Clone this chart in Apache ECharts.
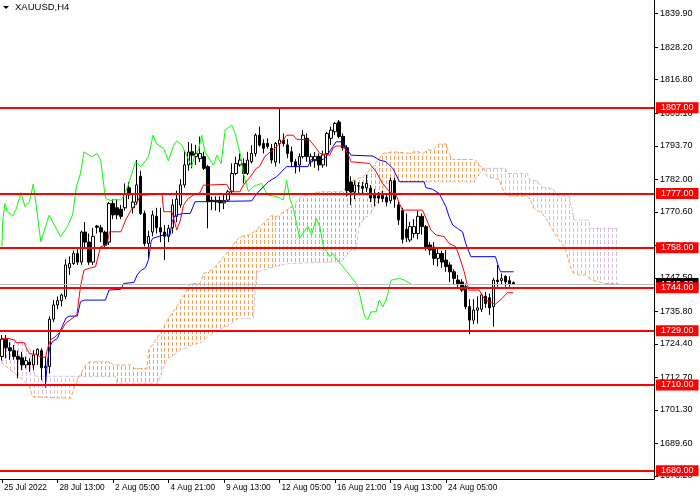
<!DOCTYPE html>
<html>
<head>
<meta charset="utf-8">
<style>
  html, body { margin: 0; padding: 0; background: #ffffff; }
  #grafico { width: 700px; height: 500px; }
</style>
<script src="https://cdn.jsdelivr.net/npm/echarts@6/dist/echarts.min.js"></script>
</head>
<body>
<div id="grafico"></div>
<script>
const symbolName = 'XAUUSD,H4'

// time axis: one label every 14 bars
const tickLabels = ['25 Jul 2022', '28 Jul 13:00', '2 Aug 05:00', '4 Aug 21:00', '9 Aug 13:00',
	'12 Aug 05:00', '16 Aug 21:00', '19 Aug 13:00', '24 Aug 05:00']
const labelEvery = 14
const barCount = 165

// price axis
const priceTicks = [1678.2, 1689.6, 1701.3, 1712.7, 1724.4, 1735.8, 1747.5, 1758.9,
	1770.6, 1782.0, 1793.7, 1805.1, 1816.8, 1828.2, 1839.9]
const priceMin = 1677.1
const priceMax = 1844.7

// H4 candles: [open, close, low, high]
const candles = [
	[1720, 1726, 1718.5, 1727.5], [1726, 1723, 1719.3, 1727.5], [1723, 1722, 1718.8, 1725], [1722, 1720, 1718.8, 1724],
	[1720, 1719, 1712.3, 1722], [1719.5, 1717, 1715.2, 1721.6], [1717, 1718.5, 1715.8, 1719.9], [1718, 1717, 1714.6, 1719.3],
	[1717, 1720.5, 1715.2, 1722.2], [1720.5, 1722.5, 1717, 1722.8], [1722, 1716, 1711.7, 1722.8], [1716, 1716.5, 1710, 1720],
	[1716.5, 1733, 1714, 1734], [1733, 1738, 1732, 1739.7], [1738, 1739.5, 1736.5, 1741], [1739.5, 1741.5, 1737.5, 1742],
	[1741, 1752, 1740, 1754], [1751, 1752.5, 1748.5, 1755], [1752.5, 1756, 1752, 1757], [1756, 1753, 1752, 1757.5],
	[1753, 1763.5, 1752, 1764], [1763.5, 1760, 1758, 1767], [1760, 1753, 1752, 1763], [1753, 1762, 1752, 1765],
	[1765.6, 1765.2, 1763, 1766], [1765, 1763.5, 1760, 1766], [1763.5, 1759, 1758, 1764], [1760, 1773.5, 1759, 1774],
	[1773.5, 1769.5, 1768, 1775], [1772, 1769.5, 1768, 1775], [1771.5, 1769, 1768, 1773], [1772, 1777, 1771, 1780.5],
	[1779, 1776.5, 1775, 1781], [1772, 1774, 1770, 1777], [1774, 1780, 1773, 1788.7], [1783, 1770, 1769.5, 1785],
	[1770, 1759.5, 1758.5, 1771], [1759.5, 1762, 1754.3, 1764], [1763.5, 1769.5, 1762, 1771], [1769, 1765, 1763, 1772],
	[1765, 1763.5, 1760, 1772], [1763.5, 1762, 1753.7, 1766], [1762, 1764.8, 1760, 1766], [1765, 1773, 1763, 1775],
	[1769, 1775, 1767, 1778], [1773, 1780, 1772, 1782], [1780, 1787, 1779, 1792], [1787, 1791.5, 1785, 1795],
	[1791.6, 1790.4, 1785.8, 1794.5], [1789.9, 1791, 1787, 1794], [1789.2, 1791, 1788, 1796.9], [1789.9, 1785.8, 1785.2, 1791.6],
	[1786.4, 1774.1, 1764.8, 1787], [1774.6, 1774.2, 1771.2, 1775.9], [1774, 1774.6, 1771, 1776], [1774.6, 1773.7, 1770.5, 1776],
	[1773.7, 1774.5, 1771.5, 1776.5], [1774.7, 1777.6, 1774.1, 1778.2], [1777.6, 1784, 1777, 1787.5], [1784, 1787.5, 1783.4, 1789.9],
	[1787, 1788.7, 1786.4, 1791], [1787.5, 1784, 1780.5, 1789.3], [1784, 1788.7, 1783.4, 1791.6], [1788.1, 1791, 1787.5, 1793.9],
	[1791, 1797.4, 1789.9, 1798], [1797.4, 1793.9, 1793.4, 1800.4], [1794.5, 1792.8, 1791, 1796], [1794.5, 1793.4, 1792.7, 1796.3],
	[1792.8, 1788.7, 1787.5, 1794.3], [1788, 1794.5, 1786.4, 1795], [1794.5, 1795.7, 1787.5, 1807.2], [1795.7, 1794.5, 1793.4, 1798],
	[1794, 1791, 1789.3, 1796], [1791.6, 1788.1, 1786.4, 1793.4], [1788.1, 1786.4, 1784, 1789], [1787, 1789.9, 1784.6, 1791],
	[1789.9, 1797.4, 1789.3, 1799.2], [1796.3, 1789.9, 1788.1, 1798], [1788.1, 1789.9, 1786.4, 1791], [1788.5, 1790, 1786, 1791.5],
	[1790, 1787, 1785, 1791], [1787, 1790.5, 1786, 1792], [1791, 1798, 1786.4, 1798.6], [1796.3, 1799.2, 1794, 1800.4],
	[1798.6, 1801.5, 1797.4, 1802], [1802, 1796.9, 1796.3, 1802.7], [1797, 1793, 1792, 1798], [1793, 1778, 1776, 1794],
	[1781, 1777.5, 1773, 1783], [1777.5, 1780, 1775, 1781.5], [1779.6, 1779.8, 1777, 1781], [1779.5, 1778.8, 1777, 1781],
	[1779, 1780.5, 1777.5, 1783.5], [1778.8, 1775.4, 1774, 1780], [1776.5, 1775.4, 1772.5, 1778.5], [1776.2, 1775.4, 1773.5, 1777.5],
	[1776.4, 1775.2, 1774, 1778], [1775.7, 1774, 1772.5, 1777], [1774.5, 1781.5, 1773.5, 1782.5], [1781.5, 1775, 1772, 1782.5],
	[1773, 1767.7, 1766, 1774], [1771, 1761, 1759.5, 1772], [1764.5, 1761.5, 1760, 1770], [1760.7, 1765.4, 1760, 1767],
	[1763, 1765.4, 1761.5, 1768], [1763, 1769, 1761, 1771], [1769, 1765.4, 1762.6, 1770], [1765.4, 1758.4, 1757, 1766],
	[1759, 1757.2, 1755.5, 1760], [1758.2, 1754.3, 1752, 1760], [1754.3, 1756, 1751.5, 1757.5], [1756, 1753, 1751, 1757],
	[1753.7, 1751.4, 1749.6, 1757.2], [1752, 1749.6, 1746, 1753], [1749.6, 1747.3, 1745, 1750.5], [1746.7, 1745.5, 1744, 1748.5],
	[1746, 1743.2, 1742.5, 1747], [1744.4, 1737.4, 1736.5, 1745.5], [1737.4, 1732.7, 1727.7, 1740], [1732.7, 1736.2, 1731.3, 1740],
	[1736.2, 1737, 1731.5, 1741], [1736.5, 1741.5, 1735.5, 1742], [1741, 1738.5, 1737, 1742.5], [1740.5, 1737, 1734.5, 1742],
	[1737.4, 1746.7, 1730.4, 1747.5], [1746.7, 1746.2, 1744.4, 1752], [1746.5, 1747.2, 1745, 1749], [1748, 1746.1, 1744.4, 1748.4],
	[1746.5, 1745.5, 1744.4, 1748], [1745.8, 1745.3, 1745, 1746.2]
]

// ichimoku lines: [bar, price]
const tenkan = [
	[0, 1726.3], [1.5, 1726.3], [2, 1725.7], [3.2, 1725.7], [3.5, 1724.8], [5.6, 1724.8], [6, 1723.4], [6.9, 1721],
	[9, 1720.7], [9.4, 1719.9], [11, 1719.6], [11.5, 1722.8], [12.3, 1725.9], [13.2, 1726.6], [15, 1729], [16, 1731.5],
	[18.9, 1734.5], [19.8, 1744.4], [20.7, 1750.2], [22, 1750.8], [23.6, 1751.4], [24.1, 1752], [24.9, 1758.4], [26.5, 1759],
	[27.1, 1763.6], [30, 1763.6], [30.4, 1764.8], [31.2, 1767.7], [32.8, 1771.8], [34, 1773.5], [34.9, 1776.4], [40.4, 1776.7],
	[40.8, 1770.6], [42.9, 1770.6], [43.3, 1768.3], [44.1, 1764.2], [45, 1767.7], [45.8, 1772.9], [47, 1775.3], [48.3, 1776.4],
	[50, 1777.3], [50.8, 1779.9], [56.7, 1780.2], [57.5, 1778.2], [58.5, 1777.6], [60, 1777.6], [60.9, 1779.9], [62.5, 1782.6],
	[64.2, 1785.8], [65, 1786.4], [66.3, 1789.9], [69.3, 1793.4], [71, 1795.7], [71.8, 1797.4], [73.5, 1797.4], [74.3, 1796],
	[77.6, 1795.7], [79.3, 1792.8], [80.2, 1791], [82.7, 1790.4], [83.5, 1792.8], [84.3, 1793.6], [86, 1793.6], [86.8, 1792.2],
	[88.1, 1788.1], [92.7, 1787.5], [94.4, 1784.6], [96, 1780.5], [97.8, 1777.6], [99.4, 1776.5], [100.3, 1773.5], [101, 1771.2],
	[106.1, 1771.2], [107, 1768.3], [108.2, 1764.2], [109.5, 1762.5], [111.6, 1761.9], [112.8, 1759.5], [114.5, 1758.4], [115.7, 1753.7],
	[116.6, 1749.6], [117.4, 1745], [117.8, 1743.2], [120.4, 1743.2], [121.6, 1740.3], [122.9, 1739.1], [124.5, 1738.3], [126.2, 1740.3],
	[127.5, 1742.3], [129, 1742.3]
]

const kijun = [
	[10.9, 1709], [11.5, 1718.7], [12.1, 1723.4], [12.7, 1725.1], [14, 1726.3], [14.8, 1729.2], [16.1, 1733.3], [16.9, 1734.1],
	[19, 1734.1], [19.8, 1739.1], [20.7, 1739.7], [26.1, 1739.7], [27, 1743.2], [30, 1743.5], [30.7, 1745.5], [33.3, 1745.9],
	[34.1, 1748.5], [35, 1750], [36.2, 1751], [37, 1754], [37.6, 1760], [38, 1761.3], [40.8, 1762.5], [42.4, 1762.5],
	[42.9, 1767.1], [43.7, 1769.4], [45.8, 1770], [47.5, 1770], [48.7, 1774.1], [49.1, 1774.4], [63, 1774.4], [64.3, 1777],
	[67.2, 1781.1], [69.3, 1782.9], [71.8, 1786.4], [77.2, 1786.4], [78, 1788.9], [81, 1788.9], [81.8, 1789.9], [83.5, 1793.4],
	[84.3, 1795.1], [86, 1795.1], [86.9, 1792.8], [88.1, 1790.4], [93.6, 1790.1], [95.2, 1788.7], [96.9, 1788.1], [98.6, 1785.8],
	[100.3, 1781.1], [106.5, 1781.1], [107, 1779], [108.6, 1778.5], [110.3, 1777], [112, 1772.4], [112.8, 1768.9], [113.7, 1766],
	[114.9, 1764.8], [116.2, 1763.6], [117, 1759.5], [117.8, 1756.6], [118.3, 1754.9], [124.5, 1754.9], [125.4, 1750.8], [125.8, 1749.6],
	[129.1, 1749.6]
]

const chikou = [
	[0, 1758.4], [0.2, 1767.7], [0.75, 1773.5], [1.4, 1770.6], [2.7, 1769.1], [3.5, 1771.2], [4.8, 1777.3], [5.8, 1772.4],
	[6.9, 1774.1], [7.9, 1780.3], [8.5, 1774.1], [9.8, 1760.1], [11.9, 1769.4], [14.8, 1761.9], [16.5, 1765.4], [17.8, 1769.4],
	[18.8, 1779.4], [19.8, 1784], [20.7, 1791.6], [21.9, 1790.4], [22.8, 1789.9], [24, 1791], [24.9, 1788.7], [26.1, 1775.3],
	[27.4, 1774.5], [28.6, 1774.9], [29.9, 1774.7], [30.7, 1775.9], [32, 1780.5], [33.7, 1788.1], [34.9, 1786.4], [35.7, 1787.5],
	[37, 1789.9], [38.1, 1797.4], [39.1, 1794.3], [40.8, 1792.8], [42, 1788.5], [43.3, 1793.9], [44.1, 1795.4], [45.4, 1793.9],
	[46.7, 1789.9], [47.9, 1786.4], [48.5, 1789.9], [49.6, 1792.2], [50.4, 1797.4], [51.2, 1791.5], [52.5, 1788.7], [53.4, 1786.9],
	[54.2, 1790.4], [55.3, 1787.5], [56.3, 1799.2], [58, 1800.9], [58.8, 1798], [60.1, 1791], [60.9, 1784], [62.2, 1777.6],
	[63.4, 1779.4], [64.3, 1779.9], [65.5, 1780.5], [66.3, 1778.2], [67.2, 1776.4], [69.3, 1775.9], [71, 1774.7], [71.8, 1781.7],
	[72.6, 1775.3], [73.5, 1771.8], [75.1, 1761.3], [76.4, 1764], [77.2, 1765.4], [78.1, 1762.5], [79.3, 1768.3], [80.2, 1765.4],
	[81, 1758.9], [82.7, 1754.9], [83.5, 1756], [84.3, 1754.3], [86, 1751.4], [87.7, 1748.5], [89.4, 1745.5], [90.2, 1742],
	[91.5, 1733.9], [92.3, 1732.9], [93.1, 1735.6], [94.4, 1735.6], [95.2, 1739.7], [96.1, 1737.4], [96.9, 1739.7], [98.2, 1746.7],
	[99, 1746.9], [100.3, 1747.3], [101.5, 1746.7], [103.2, 1745.3]
]

const senkouA = [
	[-0.25, 1718.1], [3.1, 1714.1], [4.8, 1712.3], [6.9, 1709.4], [7.7, 1705.9], [8.1, 1705.3], [17.3, 1705.3], [18.3, 1709.4],
	[19.5, 1713], [21.1, 1717], [22, 1718.1], [27.4, 1718.1], [28, 1717], [32.4, 1717], [33.3, 1715.8], [36.6, 1715.8],
	[37, 1722.2], [39.1, 1726.3], [42, 1733.3], [44.1, 1737.4], [46.2, 1742], [47.5, 1745.5], [50, 1745.5], [50.8, 1749],
	[53, 1750.2], [54.5, 1752.5], [57, 1756.6], [59.2, 1760.7], [60.1, 1761.9], [62.2, 1762.5], [63.5, 1763.6], [65.1, 1765.4],
	[67.6, 1768.9], [68.4, 1769.5], [69.5, 1768.9], [71, 1770.6], [72.6, 1771.8], [75.6, 1775.9], [77, 1776.5], [80, 1777.6],
	[86, 1777.6], [87.7, 1781.1], [91.1, 1782.9], [93.6, 1786.4], [96.1, 1791], [98.6, 1791.6], [103.2, 1791], [104.4, 1792],
	[106.1, 1791], [107.5, 1792.2], [108.6, 1792.2], [110.3, 1794.3], [112, 1794.3], [112.8, 1791], [113.7, 1788.9], [118.7, 1788.9],
	[119.5, 1788.7], [120.3, 1786.9], [121.6, 1785.8], [122.4, 1782.9], [125.4, 1781.9], [126.6, 1777.6], [127.5, 1776.1], [132.5, 1776.1],
	[133.3, 1774.7], [134.2, 1771.8], [136.3, 1770], [137.5, 1767.7], [139.6, 1762.5], [142.1, 1757.8], [143.8, 1749.6], [145.5, 1748.5],
	[147.2, 1748.5], [148.8, 1746.7], [152.2, 1745.5], [155.5, 1745.5]
]

const senkouB = [
	[-0.25, 1725.5], [5, 1725.5], [6, 1724.5], [7, 1722.5], [7.8, 1716], [8.3, 1713.1], [19.5, 1713], [28.6, 1713],
	[29, 1710.6], [39.5, 1710.6], [40, 1713.5], [41.6, 1718.7], [45, 1722.2], [48.3, 1724.2], [50, 1724.6], [52, 1727],
	[55, 1729.5], [58, 1731.5], [59.6, 1733.3], [63.4, 1733.3], [64, 1745.5], [64.3, 1749.6], [69, 1751.5], [72.6, 1752.5],
	[84.8, 1753.1], [86, 1753.7], [88, 1757.2], [89.4, 1757.5], [90, 1765], [91.1, 1768], [93, 1770], [95, 1775],
	[96.6, 1780.5], [100.3, 1781.1], [119, 1781.1], [120.3, 1783.5], [121.6, 1785.8], [127, 1785.8], [127.5, 1784], [132.5, 1784],
	[133.3, 1781.5], [135, 1781.5], [136.3, 1779.2], [138.8, 1778.8], [140.4, 1776.1], [143, 1776.1], [143.8, 1771.8], [144.3, 1767.7],
	[148, 1767.7], [148.4, 1764.8], [155.5, 1764.8]
]

// where span A and span B cross, and which side is on top between them
const cloudSwitches = [-0.25, 19.5, 121.6, 155.5]
const cloudBullish = [false, true, false]

const levels = [1807, 1777, 1758, 1744, 1729, 1710, 1680]
const bidPrice = 1745.3

const fonte = '"Liberation Sans", Arial, sans-serif'
const corLaranja = '#f4a460'
const corLilas = '#d8bfd8'

// pixel y of a polyline at pixel x (screen geometry for the hatching)
function yNaTela(pontos, x) {
	for (let i = 1; i < pontos.length; i++) {
		const p = pontos[i - 1]
		const q = pontos[i]
		if (x >= p[0] && x <= q[0]) {
			const t = q[0] === p[0] ? 0 : (x - p[0]) / (q[0] - p[0])
			return p[1] + t * (q[1] - p[1])
		}
	}
	return null
}

// dotted vertical hatching between span A and span B, one column per bar,
// each dash a filled 1px rectangle, all dashes of a region in one path
function desenhaNuvem(params, api) {
	const k = params.dataIndex
	const x0 = cloudSwitches[k]
	const x1 = cloudSwitches[k + 1]
	const dentro = p => p[0] >= x0 && p[0] <= x1
	const linhaA = senkouA.filter(dentro).map(p => api.coord(p))
	const linhaB = senkouB.filter(dentro).map(p => api.coord(p))
	let caminho = ''
	for (let b = Math.ceil(x0); b <= Math.floor(x1); b++) {
		const xc = api.coord([b, priceMin])[0]
		const ya = yNaTela(linhaA, xc)
		const yb = yNaTela(linhaB, xc)
		if (ya === null || yb === null) continue
		const y1 = Math.round(Math.min(ya, yb))
		const y2 = Math.round(Math.max(ya, yb))
		const x = Math.round(xc)
		for (let y = Math.floor(y1 / 6) * 6; y < y2; y += 6) {
			const a = Math.max(y, y1)
			const c = Math.min(y + 4, y2)
			if (c > a) caminho += 'M' + x + ' ' + a + 'H' + (x + 1) + 'V' + c + 'H' + x + 'Z'
		}
	}
	return {
		type: 'path',
		shape: { pathData: caminho || 'M0 0' },
		style: { fill: cloudBullish[k] ? corLaranja : corLilas, stroke: null, lineWidth: 0 }
	}
}

function mostraRotulo(index) {
	return index % labelEvery === 0 && index / labelEvery < tickLabels.length
}

function linha(nome, dados, cor, tipo, z) {
	return {
		name: nome,
		type: 'line',
		xAxisIndex: 1,
		yAxisIndex: 0,
		data: dados,
		showSymbol: false,
		symbol: 'none',
		silent: true,
		z: z,
		lineStyle: { color: cor, width: 1, type: tipo }
	}
}

const myChart = echarts.init(document.getElementById('grafico'))

const marcasNivel = [{
	yAxis: bidPrice,
	lineStyle: { color: '#c0c0c0', width: 1, type: 'solid' },
	label: {
		show: true, position: 'end', distance: 2,
		formatter: bidPrice.toFixed(2),
		color: '#ffffff', backgroundColor: '#000000',
		fontFamily: fonte, fontSize: 9, lineHeight: 10, padding: [1, 5, 1, 5]
	}
}].concat(levels.map(v => ({
	yAxis: v,
	lineStyle: { color: '#ff0000', width: 2, type: 'solid' },
	label: {
		show: true, position: 'end', distance: 2,
		formatter: v.toFixed(2),
		color: '#ffffff', backgroundColor: '#ff0000',
		fontFamily: fonte, fontSize: 9, lineHeight: 10, padding: [1, 5, 0, 5]
	}
})))

myChart.setOption({
	animation: false,
	backgroundColor: '#ffffff',
	grid: { left: 0, right: 46, top: 0, bottom: 21 },
	graphic: [
		{ type: 'polygon', shape: { points: [[3, 6], [9, 6], [6, 9]] }, style: { fill: '#000000' } },
		{
			type: 'text', left: 15, top: 2,
			style: { text: symbolName, fill: '#000000', font: '9.5px ' + fonte }
		}
	],
	xAxis: [
		{
			type: 'category',
			data: Array.from({ length: barCount }, (_, i) => String(i)),
			boundaryGap: true,
			axisLine: { show: true, onZero: false, lineStyle: { color: '#000000', width: 1 } },
			axisTick: { show: true, interval: mostraRotulo, alignWithLabel: true, length: 4, lineStyle: { color: '#000000' } },
			axisLabel: {
				interval: mostraRotulo,
				formatter: (value, index) => tickLabels[Math.round(index / labelEvery)],
				align: 'left',
				margin: 5,
				padding: [0, 0, 0, 2],
				color: '#000000',
				fontFamily: fonte,
				fontSize: 8.3
			},
			splitLine: { show: false }
		},
		{
			type: 'value',
			show: false,
			min: -0.5,
			max: barCount - 0.5
		}
	],
	yAxis: {
		type: 'value',
		position: 'right',
		min: priceMin,
		max: priceMax,
		scale: true,
		axisLine: { show: true, onZero: false, lineStyle: { color: '#000000', width: 1 } },
		axisTick: { show: true, customValues: priceTicks, length: 4, lineStyle: { color: '#000000' } },
		axisLabel: {
			customValues: priceTicks,
			formatter: v => v.toFixed(2),
			margin: 6,
			color: '#000000',
			fontFamily: fonte,
			fontSize: 9
		},
		splitLine: { show: false }
	},
	series: [
		{
			name: 'Kumo',
			type: 'custom',
			xAxisIndex: 1,
			yAxisIndex: 0,
			silent: true,
			z: 1,
			data: cloudBullish.map((b, k) => [k]),
			renderItem: desenhaNuvem
		},
		linha('Senkou Span A', senkouA, corLaranja, [4, 2], 1),
		linha('Senkou Span B', senkouB, corLilas, [4, 2], 1),
		{
			name: symbolName,
			type: 'candlestick',
			xAxisIndex: 0,
			yAxisIndex: 0,
			data: candles,
			barWidth: 3,
			silent: true,
			z: 3,
			itemStyle: {
				color: '#ffffff',
				color0: '#000000',
				borderColor: '#000000',
				borderColor0: '#000000',
				borderWidth: 1
			}
		},
		linha('Chikou Span', chikou, '#00ff00', 'solid', 4),
		linha('Kijun-sen', kijun, '#0000ff', 'solid', 4),
		linha('Tenkan-sen', tenkan, '#ff0000', 'solid', 4),
		{
			name: 'Niveis',
			type: 'line',
			xAxisIndex: 1,
			yAxisIndex: 0,
			data: [],
			z: 5,
			markLine: {
				silent: true,
				symbol: ['none', 'none'],
				animation: false,
				data: marcasNivel
			}
		}
	]
})

window.addEventListener('resize', () => myChart.resize())
</script>
</body>
</html>
